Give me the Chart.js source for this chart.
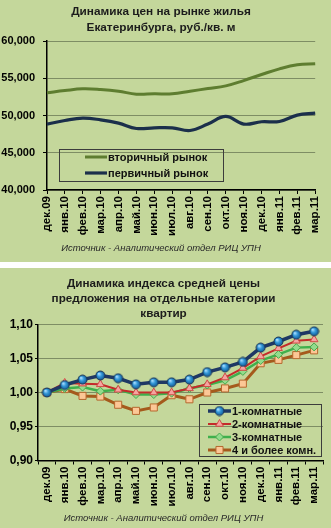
<!DOCTYPE html>
<html>
<head>
<meta charset="utf-8">
<script src="https://cdn.jsdelivr.net/npm/chart.js@4.4.1/dist/chart.umd.min.js"></script>
<style>
  html, body { margin: 0; padding: 0; background: #ffffff; }
  body { width: 331px; height: 528px; position: relative; overflow: hidden; }
  .panel { position: absolute; left: 0; width: 331px; background: #c4d79b; }
  #p1 { top: 0; height: 262px; }
  #p2 { top: 268px; height: 260px; }
</style>
</head>
<body>
<div class="panel" id="p1"><canvas id="c1"></canvas></div>
<div class="panel" id="p2"><canvas id="c2"></canvas></div>
<script>
// ---- data ----
const months = ['дек.09','янв.10','фев.10','мар.10','апр.10','май.10','июн.10','июл.10',
                'авг.10','сен.10','окт.10','ноя.10','дек.10','янв.11','фев.11','мар.11'];

// average asking price, rub per sq. m
const secondaryMarket = [53050,53350,53580,53490,53260,52860,52910,52910,53260,53620,53980,54690,55500,56260,56800,56930];
const primaryMarket   = [48850,49330,49650,49420,48980,48260,48350,48350,47990,48850,49870,48850,49160,49200,50050,50320];
const priceTicks = [40000,45000,50000,55000,60000];

// price index by apartment size (Dec 2009 = 1.00)
const rooms1    = [1.000,1.011,1.019,1.025,1.021,1.012,1.015,1.015,1.019,1.030,1.037,1.045,1.066,1.075,1.085,1.090];
const rooms2    = [1.000,1.014,1.013,1.012,1.004,1.000,1.000,1.000,1.006,1.012,1.022,1.036,1.053,1.065,1.076,1.078];
const rooms3    = [1.000,1.006,1.008,1.002,1.004,0.997,0.997,0.999,1.006,1.011,1.018,1.031,1.047,1.056,1.066,1.067];
const rooms4plus = [1.000,1.005,0.995,0.994,0.982,0.973,0.978,0.996,0.990,1.000,1.006,1.013,1.043,1.048,1.055,1.062];
const indexTicks = [0.90,0.95,1.00,1.05,1.10];

// ---- styling ----
const FONT = "'Liberation Sans', Arial, sans-serif";
Chart.defaults.font.family = FONT;
Chart.defaults.color = '#000';
const GRID = 'rgba(70,80,55,0.55)';

// shaded ball used as the marker of the 1-room series
function ballImage(r) {
  const s = Math.ceil(r * 2 + 2);
  const c = document.createElement('canvas');
  c.width = c.height = s;
  const g = c.getContext('2d');
  const m = s / 2;
  const grad = g.createRadialGradient(m - r * 0.35, m - r * 0.4, r * 0.1, m, m, r);
  grad.addColorStop(0, '#a8dcff');
  grad.addColorStop(0.45, '#3398d8');
  grad.addColorStop(1, '#135a96');
  g.beginPath();
  g.arc(m, m, r, 0, Math.PI * 2);
  g.fillStyle = grad;
  g.fill();
  g.lineWidth = 1;
  g.strokeStyle = '#1a3658';
  g.stroke();
  return c;
}
const ball = ballImage(4.5);

function drawMarker(ctx, ds, x, y) {
  const st = ds.pointStyle, r = ds.pointRadius || 0;
  if (!st || !r) return;
  if (st instanceof HTMLCanvasElement) {
    ctx.drawImage(st, x - st.width / 2, y - st.height / 2);
    return;
  }
  ctx.beginPath();
  if (st === 'triangle') {
    let a = 0;
    ctx.moveTo(x + Math.sin(a) * r, y - Math.cos(a) * r);
    a += 2 * Math.PI / 3;
    ctx.lineTo(x + Math.sin(a) * r, y - Math.cos(a) * r);
    a += 2 * Math.PI / 3;
    ctx.lineTo(x + Math.sin(a) * r, y - Math.cos(a) * r);
    ctx.closePath();
  } else if (st === 'rectRot') {
    ctx.moveTo(x - r, y); ctx.lineTo(x, y - r); ctx.lineTo(x + r, y); ctx.lineTo(x, y + r);
    ctx.closePath();
  } else {
    const h = Math.SQRT1_2 * r;
    ctx.rect(x - h, y - h, 2 * h, 2 * h);
  }
  ctx.fillStyle = ds.pointBackgroundColor;
  ctx.fill();
  ctx.lineWidth = ds.pointBorderWidth || 1;
  ctx.strokeStyle = ds.pointBorderColor;
  ctx.stroke();
}

// framed legend placed in a corner of the plot area
const boxLegend = {
  id: 'boxLegend',
  afterDraw(chart, args, o) {
    const { ctx, chartArea } = chart;
    const x0 = o.corner === 'left' ? chartArea.left + o.insetX : chartArea.right - o.insetX - o.width;
    const y0 = chartArea.bottom - o.insetY - o.height;
    ctx.save();
    ctx.lineWidth = 1;
    ctx.strokeStyle = '#3c3c3c';
    ctx.strokeRect(Math.round(x0) + 0.5, Math.round(y0) + 0.5, o.width, o.height);
    ctx.font = 'bold 11px ' + FONT;
    ctx.textBaseline = 'middle';
    ctx.textAlign = 'left';
    chart.data.datasets.forEach((ds, i) => {
      const y = Math.round(y0 + o.firstRow + i * o.rowHeight);
      const sx = x0 + o.sampleX;
      ctx.beginPath();
      ctx.moveTo(sx, y);
      ctx.lineTo(sx + o.sampleW, y);
      ctx.lineWidth = ds.borderWidth;
      ctx.strokeStyle = ds.borderColor;
      ctx.stroke();
      drawMarker(ctx, ds, sx + o.sampleW / 2, y);
      ctx.fillStyle = '#111';
      ctx.fillText(ds.label, sx + o.sampleW + 1, y + 0.5);
    });
    ctx.restore();
  }
};

// ---- chart 1: prices ----
new Chart(document.getElementById('c1'), {
  type: 'line',
  data: {
    labels: months,
    datasets: [
      { label: 'вторичный рынок', data: secondaryMarket, borderColor: '#5e7d30', borderWidth: 3,
        pointRadius: 0, tension: 0.4 },
      { label: 'первичный рынок', data: primaryMarket, borderColor: '#1b2f4b', borderWidth: 3.2,
        pointRadius: 0, tension: 0.4 }
    ]
  },
  options: {
    responsive: true,
    maintainAspectRatio: false,
    animation: false,
    layout: { padding: { left: 0, right: 9, top: 0, bottom: 0 } },
    plugins: {
      legend: { display: false },
      tooltip: { enabled: false },
      title: {
        display: true,
        text: ['Динамика цен на рынке жилья', 'Екатеринбурга, руб./кв. м'],
        color: '#1c1c1c',
        font: { size: 11.8, weight: 'bold', lineHeight: 16 / 11.8 },
        padding: { top: 4, bottom: 5 }
      },
      subtitle: {
        display: true,
        position: 'bottom',
        text: 'Источник - Аналитический отдел РИЦ УПН',
        color: '#2a2a2a',
        font: { size: 9.5, style: 'italic', lineHeight: 12 / 9.5 },
        padding: { top: 0, bottom: 8 }
      },
      boxLegend: { corner: 'left', insetX: 12, insetY: 9, width: 164, height: 32,
                   sampleX: 26, sampleW: 22, firstRow: 8, rowHeight: 16 }
    },
    scales: {
      x: {
        offset: false,
        grid: { drawOnChartArea: false, drawTicks: true, tickLength: 4, tickColor: '#000', offset: false },
        border: { display: true, color: '#000', width: 1.5 },
        ticks: { minRotation: 90, maxRotation: 90, autoSkip: false, padding: 2,
                 font: { size: 11.5, weight: 'bold' }, color: '#000' },
        afterFit: s => { s.height = 52; }
      },
      y: {
        min: 40000, max: 60000,
        afterBuildTicks: s => { s.ticks = priceTicks.map(v => ({ value: v })); },
        grid: { color: GRID, lineWidth: 1, tickLength: 4, tickColor: '#000' },
        border: { display: true, color: '#000', width: 1.5 },
        ticks: { padding: 8, font: { size: 11, weight: 'bold' }, color: '#000' },
        afterFit: s => { s.width = 47; }
      }
    }
  },
  plugins: [boxLegend]
});

// ---- chart 2: index by apartment type ----
new Chart(document.getElementById('c2'), {
  type: 'line',
  data: {
    labels: months,
    datasets: [
      { label: '1-комнатные', data: rooms1, borderColor: '#1f3864', borderWidth: 3.5,
        pointStyle: ball, pointRadius: 4.5, tension: 0 },
      { label: '2-комнатные', data: rooms2, borderColor: '#c42b2b', borderWidth: 2,
        pointStyle: 'triangle', pointRadius: 4.5, pointBackgroundColor: '#f6a3a0',
        pointBorderColor: '#d04a45', pointBorderWidth: 1, tension: 0 },
      { label: '3-комнатные', data: rooms3, borderColor: '#3fb04c', borderWidth: 2.5,
        pointStyle: 'rectRot', pointRadius: 4, pointBackgroundColor: '#93dc8c',
        pointBorderColor: '#46a84c', pointBorderWidth: 1, tension: 0 },
      { label: '4 и более комн.', data: rooms4plus, borderColor: '#a55a1c', borderWidth: 3,
        pointStyle: 'rect', pointRadius: 5, pointBackgroundColor: '#fcc796',
        pointBorderColor: '#b5682e', pointBorderWidth: 1, tension: 0 }
    ]
  },
  options: {
    responsive: true,
    maintainAspectRatio: false,
    animation: false,
    layout: { padding: { left: 0, right: 4, top: 0, bottom: 0 } },
    plugins: {
      legend: { display: false },
      tooltip: { enabled: false },
      title: {
        display: true,
        text: ['Динамика индекса средней цены', 'предложения на отдельные категории', 'квартир'],
        color: '#1c1c1c',
        font: { size: 11.7, weight: 'bold', lineHeight: 15 / 11.7 },
        padding: { top: 8, bottom: 3.5 }
      },
      subtitle: {
        display: true,
        position: 'bottom',
        text: 'Источник - Аналитический отдел РИЦ УПН',
        color: '#2a2a2a',
        font: { size: 9.5, style: 'italic', lineHeight: 12 / 9.5 },
        padding: { top: 0, bottom: 4 }
      },
      boxLegend: { corner: 'right', insetX: 2, insetY: 4.5, width: 122, height: 52,
                   sampleX: 9, sampleW: 23, firstRow: 7, rowHeight: 13 }
    },
    scales: {
      x: {
        offset: true,
        grid: { drawOnChartArea: false, drawTicks: true, tickLength: 4, tickColor: '#000', offset: true },
        border: { display: true, color: '#000', width: 1.5 },
        ticks: { minRotation: 90, maxRotation: 90, autoSkip: false, padding: 2,
                 font: { size: 11.5, weight: 'bold' }, color: '#000' },
        afterFit: s => { s.height = 51.5; }
      },
      y: {
        min: 0.9, max: 1.1,
        afterBuildTicks: s => { s.ticks = indexTicks.map(v => ({ value: v })); },
        grid: { color: GRID, lineWidth: 1, tickLength: 3, tickColor: '#000' },
        border: { display: true, color: '#000', width: 1.5 },
        ticks: { padding: 2, font: { size: 12, weight: 'bold' }, color: '#000',
                 callback: v => Number(v).toFixed(2).replace('.', ',') },
        afterFit: s => { s.width = 38; }
      }
    }
  },
  plugins: [boxLegend]
});
</script>
</body>
</html>
